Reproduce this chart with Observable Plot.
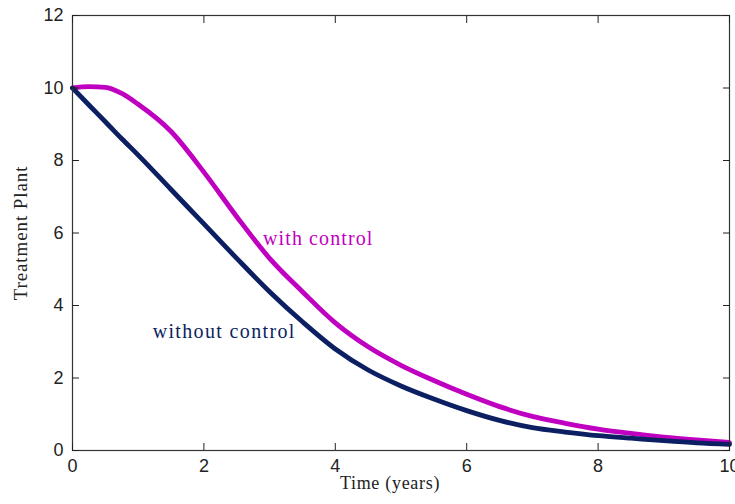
<!DOCTYPE html>
<html>
<head>
<meta charset="utf-8">
<script src="https://cdn.jsdelivr.net/npm/d3@7"></script>
<script src="https://cdn.jsdelivr.net/npm/@observablehq/plot@0.6"></script>
<style>
  html, body { margin: 0; padding: 0; background: #fff; }
  #chart svg { display: block; }
</style>
</head>
<body>
<div id="chart"></div>
<script>
// Time (years)
const time = [0, 0.25, 0.5, 0.75, 1, 1.5, 2, 2.5, 3, 3.5, 4, 4.5, 5, 5.5, 6, 6.5, 7, 7.5, 8, 8.5, 9, 9.5, 10];
// Treatment Plant, with control (magenta)
const withControl = [10, 10.04, 10.02, 9.85, 9.55, 8.8, 7.68, 6.45, 5.3, 4.38, 3.52, 2.86, 2.35, 1.93, 1.55, 1.21, 0.94, 0.75, 0.59, 0.47, 0.37, 0.29, 0.22];
// Treatment Plant, without control (navy)
const withoutControl = [10, 9.53, 9.07, 8.6, 8.15, 7.2, 6.25, 5.3, 4.38, 3.55, 2.8, 2.22, 1.78, 1.42, 1.1, 0.83, 0.63, 0.51, 0.41, 0.34, 0.27, 0.21, 0.17];
const xTicks = [0, 2, 4, 6, 8, 10];
const yTicks = [0, 2, 4, 6, 8, 10, 12];
const seriesNames = ["with control", "without control"];
const seriesColors = ["#c000c0", "#0b1f62"];
// annotation anchor points (data units)
const labelT = [2.9, 1.22];
const labelV = [5.84, 3.28];
const xTitle = "Time (years)";
const yTitle = "Treatment Plant";

const rows = [];
time.forEach((t, i) => {
  rows.push({t, v: withControl[i], s: seriesNames[0]});
  rows.push({t, v: withoutControl[i], s: seriesNames[1]});
});
const labels = seriesNames.map((s, i) => ({s, t: labelT[i], v: labelV[i]}));
const serif = "'Liberation Serif', 'Times New Roman', serif";

const chart = Plot.plot({
  width: 735,
  height: 504,
  marginLeft: 72,
  marginRight: 6,
  marginTop: 15,
  marginBottom: 54,
  style: {fontFamily: "'Liberation Sans', Arial, sans-serif", fontSize: "18px", color: "#222", background: "#fff"},
  x: {domain: [0, 10]},
  y: {domain: [0, 12]},
  color: {domain: seriesNames, range: seriesColors},
  marks: [
    Plot.line(rows, {x: "t", y: "v", z: "s", stroke: "s", strokeWidth: 4.8, curve: "monotone-x"}),
    Plot.frame({stroke: "#333", strokeWidth: 1.2}),
    Plot.axisX({ticks: xTicks, tickSize: 0, tickPadding: 9, label: null, fill: "#222"}),
    Plot.axisY({ticks: yTicks, tickSize: 0, tickPadding: 9, label: null, fill: "#222"}),
    Plot.axisX({ticks: xTicks, anchor: "bottom", tickSize: -7, tickFormat: () => "", label: null, stroke: "#222"}),
    Plot.axisX({ticks: xTicks, anchor: "top", tickSize: -7, tickFormat: () => "", label: null, stroke: "#222"}),
    Plot.axisY({ticks: yTicks, anchor: "left", tickSize: -7, tickFormat: () => "", label: null, stroke: "#222"}),
    Plot.axisY({ticks: yTicks, anchor: "right", tickSize: -7, tickFormat: () => "", label: null, stroke: "#222"}),
    Plot.text(labels, {x: "t", y: "v", text: "s", fill: "s", textAnchor: "start", lineAnchor: "middle",
      fontFamily: serif, fontSize: 20}),
    Plot.text([xTitle], {frameAnchor: "bottom", dx: -11, dy: 33, textAnchor: "middle", lineAnchor: "middle",
      fontFamily: serif, fontSize: 18, fill: "#222"}),
    Plot.text([yTitle], {frameAnchor: "left", dx: -52, rotate: -90, textAnchor: "middle", lineAnchor: "middle",
      fontFamily: serif, fontSize: 19, fill: "#222"})
  ]
});
// letter spacing to mimic the reference's wide bitmap serif
const spacing = {"with control": "1.1px", "without control": "1.35px", [xTitle]: "0.7px", [yTitle]: "0.9px"};
d3.select(chart).selectAll("text").each(function () {
  const s = spacing[this.textContent];
  if (s) this.setAttribute("letter-spacing", s);
});
document.getElementById("chart").appendChild(chart);
</script>
</body>
</html>
